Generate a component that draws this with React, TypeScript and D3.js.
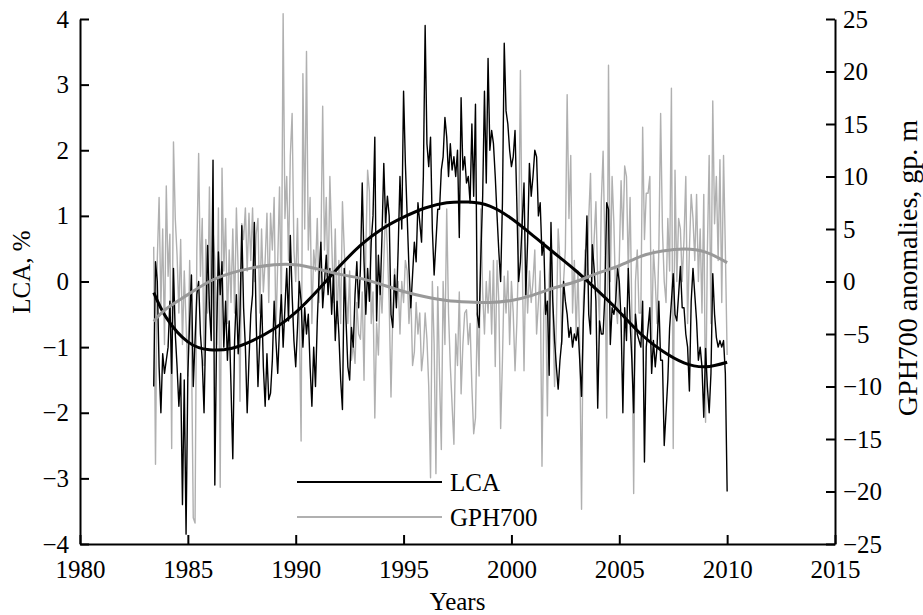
import * as React from "react"
import * as d3 from "d3"

// monthly series start: June 1983
const startYear = 1983
const startMonth = 5

// LCA, % (monthly)
const lca = [
  -1.6, 0.3, 0.0, -1.3, -2.0, -1.1, -1.4,
  -1.2, -1.0, -0.3, -1.4, 0.2, -0.8, -1.3, -1.9, -1.4, -3.4, -1.5, -3.85,
  -1.4, -0.6, 0.1, -1.6, -0.9, -0.2, 0.0, -0.8, -1.2, -2.0, -0.6, 0.55,
  -0.4, -0.9, 1.85, -3.1, -0.8, 0.45, -0.2, 0.3, -1.0, -0.3, -1.2, -0.6,
  -1.6, -2.7, -0.9, -0.2, -1.1, -0.5, 0.85, -0.4, -1.0, -2.0, -1.2, -0.5,
  -0.2, 0.9, -0.6, -1.6, -0.9, -0.2, -1.3, -1.9, -1.1, -1.8, -1.7, -1.2,
  -0.3, -0.9, -1.4, -0.7, -0.2, -1.0, -0.4, 0.2, -0.6, 0.7, -0.2, -0.9,
  -1.3, -0.7, 0.0, -0.3, -1.0, -0.4, -0.8, -0.5, -1.3, -1.9, -1.0, -1.6,
  -0.6, 0.1, 0.6, -0.4, 0.0, 0.4, -0.2, 0.2, -0.5, 0.1, -0.9, -0.3,
  -0.8, -1.5, -1.95, 0.2, -0.6, -1.3, -1.5, -0.7, -1.0, -0.2, 0.3, -0.4,
  0.2, 1.5, 0.3, -0.5, 0.2, -0.3, 0.6, 1.0, 2.2, -0.6, 0.4, -0.2,
  0.7, 1.8, 0.9, 1.3, 1.0, -0.5, -0.7, 0.1, -0.4, 0.5, 1.6, 0.8,
  2.9, 1.8, 1.0, 0.2, -0.4, 0.1, 0.6, 0.3, 1.2, 0.9, 0.6, 1.6,
  3.9, 2.1, 1.75, 2.2, 0.8, 0.1, 0.6, 1.1, 1.1, 1.7, 1.9, 2.5,
  2.2, 1.6, 2.1, 1.7, 1.9, 1.6, 2.0, 0.67, 2.8, 1.7, 1.9, 1.5,
  1.6, 1.2, 2.4, 1.3, 2.7, -0.5, -0.7, 0.4, 1.3, 2.9, 1.5, 3.4,
  2.0, 2.3, 2.1, 1.6, 1.0, 0.45, 0.0, 1.2, 3.63, 2.6, 2.4, 2.0,
  1.75, 1.9, 2.3, 1.2, 0.0, 0.3, 0.9, 1.5, -0.2, 0.6, 1.8, 1.3,
  1.6, 2.0, 1.9, 1.0, 1.2, 0.4, 0.6, -0.5, -0.3, -1.43, 0.9, -0.3,
  -0.9, -1.3, -1.64, -1.2, -0.9, 0.0, -0.3, -0.5, -0.85, -0.7, -1.0, -0.8,
  -0.9, -0.7, -1.2, -1.75, -0.6, 0.1, 1.0, -0.5, -0.8, 0.56, 0.2, -0.3,
  -1.93, -0.6, -0.8, -0.8, -0.2, 1.2, 1.1, -0.96, -0.4, -0.5, -0.3, 0.2,
  0.0, -0.6, -2.0, -0.4, -0.9, 0.2, -0.6, -1.2, -2.0, -0.5, -0.8, -0.9,
  -1.0, -0.3, -2.75, -1.0, -0.7, -0.4, -1.4, -0.9, -1.3, -1.0, -0.3, -1.2,
  -1.2, -2.5, -2.0, -1.5, -0.7, -0.3, 0.12, -0.5, -0.6, -0.2, 0.23, -0.4,
  -0.4, -0.8, -1.0, -1.67, -0.3, 0.2, -0.2, -0.6, -1.2, -1.0, -1.3, -2.07,
  -1.02, -1.6, -2.0, -1.4, 0.12, -0.5, -0.85, -1.0, -0.9, -1.0, -0.9, -1.4,
  -3.2,
]

// GPH700 anomalies, gp. m (monthly)
const gph = [
  3.3, -17.4, 2.1, 8.0, -2.5, 5.0, -6.0,
  9.1, 0.5, 4.5, -15.9, 13.3, 6.0, 2.5, -3.0, 4.0, -6.0, 1.0, -4.0,
  -9.0, 2.0, -6.0, -22.5, -23.0, 3.0, 12.2, 0.5, 6.0, -8.0, 4.0, -3.0,
  9.0, -4.0, 5.0, 2.0, -6.0, 7.0, -19.6, 10.8, 1.0, 6.0, -4.0, 3.0,
  -2.0, 5.0, -3.0, 7.0, 1.0, -11.4, 5.5, 4.0, 7.0, 1.0, 6.5, 2.0,
  7.0, 0.0, 4.5, 6.0, -3.0, 5.0, -1.0, 2.0, 6.5, -2.0, 6.5, 3.0,
  8.0, -5.0, 2.0, 9.0, -3.0, 25.5, 6.0, 10.0, 2.0, 12.0, 16.0, 3.0,
  0.0, 6.0, -4.0, -15.2, 19.8, 5.0, 21.9, 3.0, 8.0, -4.0, 3.0, 1.0,
  6.0, -2.0, 3.0, 16.7, 3.0, 8.0, -1.0, 10.0, 4.0, -2.0, 5.0, -4.0,
  2.0, -4.0, 7.6, 3.0, -1.0, -4.0, 1.0, -7.5, -6.0, -7.8, -2.0, -5.0,
  -5.5, -1.0, -9.4, 3.0, 10.6, 8.5, -4.0, -1.0, -13.0, -4.0, -7.0, 0.0,
  -3.0, 2.0, 6.9, 3.0, -2.0, -11.0, -3.0, 1.2, -2.0, 0.0, -5.0, 0.0,
  -2.0, 2.0, 1.0, -4.0, -1.0, -8.0, -6.7, -2.0, -5.0, -3.0, -8.5, -6.7,
  -3.0, -5.5, -10.0, -18.7, 0.0, -6.0, -18.3, -0.5, -9.0, -16.0, 0.0, -6.0,
  6.9, -3.0, -8.0, -11.8, -15.5, -5.0, -8.0, -1.0, -10.7, -6.0, -3.0, -2.7,
  -6.0, -4.0, -10.0, -14.5, -13.0, -3.0, -9.0, 6.9, -1.0, -5.0, 0.0, -3.0,
  1.0, -5.0, 2.0, -8.1, 2.0, -2.0, -14.0, -7.5, 0.5, -3.0, 1.0, -6.0,
  0.0, -3.0, -8.5, -4.0, 3.0, 20.1, 2.0, -8.5, 2.0, -3.0, 1.0, -2.0,
  0.0, 3.0, -5.0, -2.0, 1.0, -17.6, -3.0, -1.0, -12.8, 0.5, 4.0, -3.0,
  -10.0, -4.0, 5.0, 2.0, -6.0, 0.0, 3.0, 17.8, 6.0, 12.0, -3.0, 2.0,
  -5.0, 1.0, -6.0, -21.7, -2.0, 3.0, 0.0, 6.0, 10.3, 0.0, 4.0, 7.6,
  0.0, -4.0, 7.6, 12.4, 3.0, -13.0, 20.6, 0.0, 10.0, 5.5, -2.0, -4.0,
  2.0, 9.6, 4.0, 11.0, 10.0, 1.0, 8.0, -3.0, -20.2, 0.0, 3.0, -3.0,
  -3.0, 14.7, 4.0, 8.4, 8.4, 10.0, -6.0, 3.0, 0.0, -4.0, 3.0, 16.0,
  5.0, 0.0, -2.0, 6.0, 1.0, 18.4, -15.9, 10.6, 0.0, 6.0, 5.0, 0.0,
  4.0, 10.0, -4.0, 3.0, 8.3, 6.0, 2.0, 8.3, 0.0, 5.0, -3.0, 8.3,
  -13.4, 3.0, 12.0, -4.0, 17.2, 5.5, 10.0, 2.0, 11.6, -2.0, 12.0, 3.0,
  -7.0,
]

// smoothed trends
const trendYears = [1983.42, 1984, 1985, 1986, 1987, 1988, 1989, 1990, 1991, 1992, 1993, 1994, 1995, 1996, 1997, 1998, 1999, 2000, 2001, 2002, 2003, 2004, 2005, 2006, 2007, 2008, 2009, 2010]
const lcaTrend = [-0.17, -0.55, -0.92, -1.04, -1.02, -0.9, -0.72, -0.47, -0.14, 0.22, 0.55, 0.8, 0.98, 1.12, 1.2, 1.21, 1.15, 0.96, 0.7, 0.43, 0.16, -0.14, -0.46, -0.8, -1.06, -1.24, -1.3, -1.23]
const gphTrend = [-3.8, -2.6, -1.25, 0.0, 0.8, 1.3, 1.6, 1.6, 1.2, 0.7, 0.3, -0.3, -0.95, -1.45, -1.8, -1.95, -2.0, -1.8, -1.3, -0.6, 0.0, 0.8, 1.5, 2.4, 2.9, 3.1, 2.8, 1.8]

const xTicks = [1980, 1985, 1990, 1995, 2000, 2005, 2010, 2015]
const lcaTicks = [-4, -3, -2, -1, 0, 1, 2, 3, 4]
const gphTicks = [-25, -20, -15, -10, -5, 0, 5, 10, 15, 20, 25]

const W = 923
const H = 615
const FONT = "'Liberation Serif', 'Times New Roman', serif"

export default function App() {
  const svgRef = React.useRef<SVGSVGElement>(null)

  React.useEffect(() => {
    if (!svgRef.current) return
    const svg = d3.select(svgRef.current)
    svg.selectAll("*").remove()

    const left = 80, right = 835, top = 19, bottom = 544

    const x = d3.scaleLinear().domain([1980, 2015]).range([left, right])
    const yL = d3.scaleLinear().domain([-4, 4]).range([bottom, top])
    const yR = d3.scaleLinear().domain([-25, 25]).range([bottom, top])

    const monthT = (i: number) => startYear + (startMonth + i) / 12

    const lineL = d3.line<number>().x((_, i) => x(monthT(i))).y((d) => yL(d))
    const lineR = d3.line<number>().x((_, i) => x(monthT(i))).y((d) => yR(d))

    // raw series
    svg.append("path").attr("d", lineR(gph)).attr("fill", "none")
      .attr("stroke", "#b0b0b0").attr("stroke-width", 1.4).attr("stroke-linejoin", "round")
    svg.append("path").attr("d", lineL(lca)).attr("fill", "none")
      .attr("stroke", "#000").attr("stroke-width", 1.4).attr("stroke-linejoin", "round")

    // trends
    const trendL = d3.line<number>().x((_, i) => x(trendYears[i])).y((d) => yL(d)).curve(d3.curveNatural)
    const trendR = d3.line<number>().x((_, i) => x(trendYears[i])).y((d) => yR(d)).curve(d3.curveNatural)
    svg.append("path").attr("d", trendL(lcaTrend)).attr("fill", "none")
      .attr("stroke", "#000").attr("stroke-width", 3)
    svg.append("path").attr("d", trendR(gphTrend)).attr("fill", "none")
      .attr("stroke", "#999").attr("stroke-width", 3)

    // axes
    const styleAxis = (g: d3.Selection<SVGGElement, unknown, null, undefined>) => {
      g.selectAll("path.domain").attr("stroke", "#000").attr("stroke-width", 2)
      g.selectAll(".tick line").attr("stroke", "#000").attr("stroke-width", 2)
      g.selectAll(".tick text").attr("fill", "#000").style("font-family", FONT).style("font-size", "25px")
    }

    const gx = svg.append("g").attr("transform", `translate(0,${bottom})`)
      .call(d3.axisBottom(x).tickValues(xTicks).tickFormat(d3.format("d")).tickSizeInner(-9).tickSizeOuter(0).tickPadding(16))
    styleAxis(gx)

    const gl = svg.append("g").attr("transform", `translate(${left},0)`)
      .call(d3.axisLeft(yL).tickValues(lcaTicks).tickFormat(d3.format("d")).tickSizeInner(-9).tickSizeOuter(0).tickPadding(11))
    styleAxis(gl)

    const gr = svg.append("g").attr("transform", `translate(${right},0)`)
      .call(d3.axisRight(yR).tickValues(gphTicks).tickFormat(d3.format("d")).tickSizeInner(-9).tickSizeOuter(0).tickPadding(8))
    styleAxis(gr)

    // axis titles
    svg.append("text").attr("x", (left + right) / 2).attr("y", 610)
      .attr("text-anchor", "middle").style("font-family", FONT).style("font-size", "25px").text("Years")
    svg.append("text").attr("transform", `translate(30,272) rotate(-90)`)
      .attr("text-anchor", "middle").style("font-family", FONT).style("font-size", "25px").text("LCA, %")
    svg.append("text").attr("transform", `translate(917,268) rotate(-90)`)
      .attr("text-anchor", "middle").style("font-family", FONT).style("font-size", "28px").text("GPH700 anomalies, gp. m")

    // legend
    const legend = [
      { name: "LCA", color: "#000", y: 482 },
      { name: "GPH700", color: "#b0b0b0", y: 517 },
    ]
    legend.forEach((d) => {
      svg.append("line").attr("x1", 297).attr("x2", 442).attr("y1", d.y).attr("y2", d.y)
        .attr("stroke", d.color).attr("stroke-width", 2)
      svg.append("text").attr("x", 450).attr("y", d.y).attr("dy", "0.35em")
        .style("font-family", FONT).style("font-size", "25px").text(d.name)
    })

    return () => {
      svg.selectAll("*").remove()
    }
  }, [])

  return (
    <svg
      ref={svgRef}
      width={W}
      height={H}
      viewBox={`0 0 ${W} ${H}`}
      style={{ position: "absolute", left: 0, top: 0, background: "#fff" }}
    />
  )
}
